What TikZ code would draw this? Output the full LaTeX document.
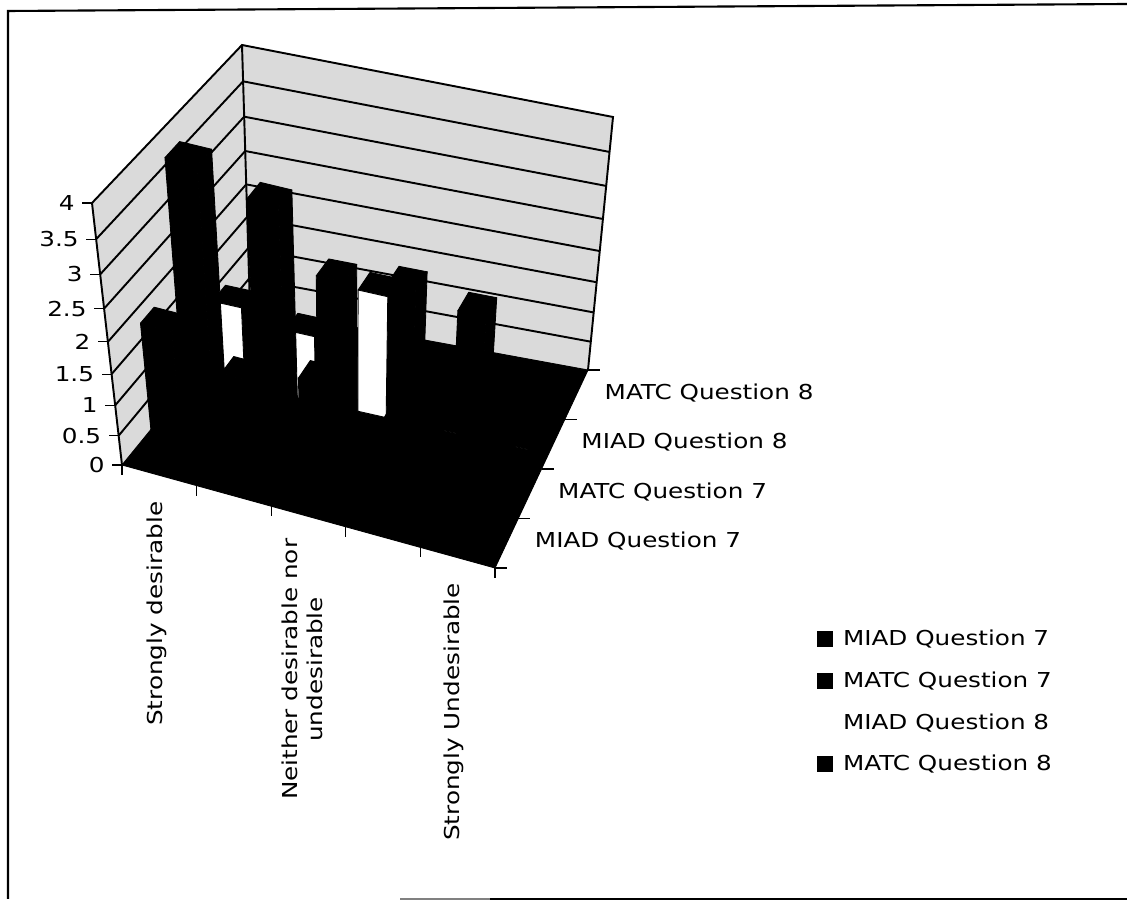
\documentclass[tikz,border=0pt]{standalone}
\usepackage{fontspec}
\setmainfont{DejaVu Sans}[FakeStretch=1.2]
\usetikzlibrary{calc}

% point of the chart box: #1 name, #2 category (0-5), #3 series (0-4), #4 value (0-4)
\newcommand{\chartpt}[4]{%
  \coordinate (cpa) at ($(A0)!{(#2)/5}!(D0)$);
  \coordinate (cpb) at ($(B0)!{(#2)/5}!(C0)$);
  \coordinate (cpc) at ($(A4)!{(#2)/5}!(D4)$);
  \coordinate (cpd) at ($(B4)!{(#2)/5}!(C4)$);
  \coordinate (cpe) at ($(cpa)!{(#3)/4}!(cpb)$);
  \coordinate (cpf) at ($(cpc)!{(#3)/4}!(cpd)$);
  \coordinate (#1) at ($(cpe)!{(#4)/4*(0.88+0.12*(#4)/4)}!(cpf)$);
}

% one column: #1 category, #2 series, #3 value, #4 colour of the front face
\newcommand{\drawbar}[4]{%
  \chartpt{bfl}{#1+0.3}{#2+0.3}{0}
  \chartpt{bfr}{#1+0.7}{#2+0.3}{0}
  \chartpt{bbr}{#1+0.7}{#2+0.7}{0}
  \chartpt{tfl}{#1+0.3}{#2+0.3}{#3}
  \chartpt{tfr}{#1+0.7}{#2+0.3}{#3}
  \chartpt{tbr}{#1+0.7}{#2+0.7}{#3}
  \chartpt{tbl}{#1+0.3}{#2+0.7}{#3}
  \filldraw[barface] (bfr) -- (bbr) -- (tbr) -- (tfr) -- cycle;
  \filldraw[barface] (tfl) -- (tfr) -- (tbr) -- (tbl) -- cycle;
  \filldraw[barface, fill=#4] (bfl) -- (bfr) -- (tfr) -- (tfl) -- cycle;
}

\begin{document}
\begin{tikzpicture}[x=0.02cm, y=-0.02cm,
    every node/.style={font=\fontsize{11.7}{14.5}\selectfont},
    wallline/.style={line width=1.1pt},
    tickline/.style={line width=0.6pt},
    barface/.style={fill=black, draw=black, line width=0.5pt, line join=round},
    keybox/.style={minimum size=9.5pt, inner sep=0pt}]
    \definecolor{wallColour}{HTML}{DADADA}
    \definecolor{seriesA}{HTML}{000000}
    \definecolor{seriesB}{HTML}{000000}
    \definecolor{seriesC}{HTML}{FFFFFF}
    \definecolor{seriesD}{HTML}{000000}

    \useasboundingbox (0,0) rectangle (1127,901);

    % Corners of the chart box
    \coordinate (A0) at (122,465);
    \coordinate (A4) at (92,203);
    \coordinate (B0) at (250,308);
    \coordinate (B4) at (242,45);
    \coordinate (C0) at (588,370);
    \coordinate (C4) at (613,117);
    \coordinate (D0) at (495,568);
    \coordinate (D4) at (511,316);

    % Draw walls
    \fill[wallColour] (A0) -- (A4) -- (B4) -- (B0) -- cycle;
    \fill[wallColour] (B0) -- (B4) -- (C4) -- (C0) -- cycle;
    \foreach \w in {0.5,1,1.5,2,2.5,3,3.5} {
        \chartpt{gl}{0}{0}{\w}
        \chartpt{gm}{0}{4}{\w}
        \chartpt{gr}{5}{4}{\w}
        \draw[wallline] (gl) -- (gm) -- (gr);
    }
    \draw[wallline] (A0) -- (A4) -- (B4) -- (C4) -- (C0);
    \draw[wallline] (B4) -- (B0);

    % Draw floor
    \filldraw[barface] (A0) -- (B0) -- (C0) -- (D0) -- cycle;

    % Draw columns, back row first
    \foreach \c/\r/\h/\col in {
        0/3/0.5/seriesD, 1/3/1.3/seriesD, 2/3/1.4/seriesD, 3/3/1.2/seriesD, 4/3/0/seriesD,
        0/2/1.3/seriesC, 1/2/1.1/seriesC, 2/2/2.0/seriesC, 3/2/0/seriesC, 4/2/0/seriesC,
        0/1/4/seriesB, 1/1/3.7/seriesB, 2/1/0.3/seriesB, 3/1/1.5/seriesB, 4/1/1/seriesB,
        0/0/2.2/seriesA, 1/0/1.75/seriesA, 2/0/2.0/seriesA, 3/0/1.5/seriesA, 4/0/1/seriesA}
        \drawbar{\c}{\r}{\h}{\col};

    % Value axis
    \foreach \w [count=\i] in {0,0.5,1,1.5,2,2.5,3,3.5,4} {
        \chartpt{yt}{0}{0}{\w}
        \draw[tickline] (yt) -- ++(-10,0) node[anchor=east, inner sep=0pt, xshift=-4pt] (ylab\i) {\w};
    }

    % Category and series axes
    \foreach \u in {0,...,5} {
        \chartpt{xt}{\u}{0}{0}
        \draw[tickline] (xt) -- ++(0,10);
    }
    \foreach \v in {0,...,4} {
        \chartpt{st}{5}{\v}{0}
        \draw[tickline] (st) -- ++(12,0);
    }

    % Category labels
    \chartpt{clA}{0.5}{0}{0}
    \chartpt{clB}{2.5}{0}{0}
    \chartpt{clC}{4.5}{0}{0}
    \node[rotate=90, anchor=east, inner sep=0pt] (catA) at ($(clA)+(-2,26)$) {Strongly desirable};
    \node[rotate=90, anchor=east, inner sep=0pt, align=center] (catB) at ($(clB)+(-6,22)$) {Neither desirable nor\\undesirable};
    \node[rotate=90, anchor=east, inner sep=0pt] (catC) at ($(clC)+(-4,25)$) {Strongly Undesirable};

    % Series labels
    \foreach \v/\txt [count=\i] in {0.5/MIAD Question 7, 1.5/MATC Question 7, 2.5/MIAD Question 8, 3.5/MATC Question 8} {
        \chartpt{sl}{5}{\v}{0}
        \node[anchor=west, inner sep=0pt] (ser\i) at ($(sl)+(28,-2)$) {\txt};
    }

    % Legend
    \foreach \y/\col/\txt [count=\i] in {639/seriesA/MIAD Question 7, 681/seriesB/MATC Question 7, 723/seriesC/MIAD Question 8, 764/seriesD/MATC Question 8} {
        \node[keybox, fill=\col] (key\i) at (825,\y) {};
        \node[anchor=west, inner sep=0pt] (leg\i) at ($(key\i.east)+(9,0)$) {\txt};
    }

    % Frame
    \draw[line width=1.2pt] (1127,4) -- (8,11) -- (8,899);
    \draw[gray, line width=1pt] (400,899) -- (490,899);
    \draw[line width=1.2pt] (490,899) -- (1127,899);

\end{tikzpicture}
\end{document}
